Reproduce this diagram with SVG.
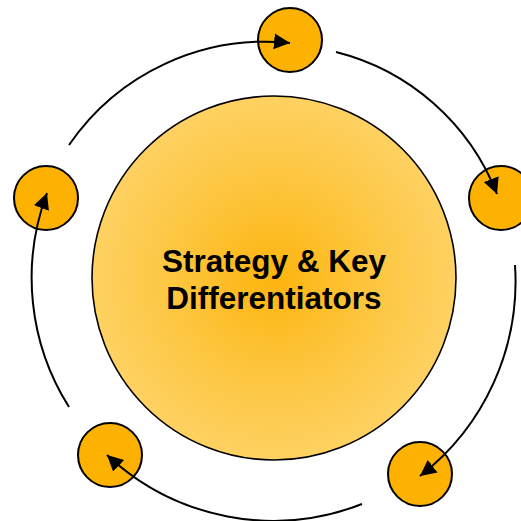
<svg xmlns="http://www.w3.org/2000/svg" width="521" height="521" viewBox="0 0 521 521">
<defs>
<radialGradient id="cg" cx="50%" cy="50%" r="50%">
<stop offset="0" stop-color="#FDB40E"/>
<stop offset="0.55" stop-color="#FDC640"/>
<stop offset="1" stop-color="#FED162"/>
</radialGradient>
<marker id="ah" markerUnits="userSpaceOnUse" markerWidth="18" markerHeight="18" refX="16" refY="8" orient="auto" viewBox="0 0 18 16">
<path d="M0,0 L16,8 L0,16 Z" fill="#000"/>
</marker>
<style>
.sm{fill:#FDB100;stroke:#000;stroke-width:2}
.cn{fill:none;stroke:#000;stroke-width:2;marker-end:url(#ah)}
.lb{font-family:"Liberation Sans",Arial,sans-serif;font-weight:bold;font-size:31.5px;fill:#000;text-anchor:middle}
</style>
</defs>
<rect width="521" height="521" fill="#fff"/>
<g id="center">
<circle cx="274" cy="278" r="182" fill="url(#cg)" stroke="#000" stroke-width="1.6"/>
<text class="lb" x="274" y="272">Strategy &amp; Key</text>
<text class="lb" x="274" y="309">Differentiators</text>
</g>
<g id="n-top"><circle class="sm" cx="290" cy="40" r="32"/></g>
<g id="n-right"><circle class="sm" cx="501" cy="198" r="32"/></g>
<g id="n-bottomright"><circle class="sm" cx="420" cy="474" r="32"/></g>
<g id="n-bottomleft"><circle class="sm" cx="110" cy="455" r="32"/></g>
<g id="n-left"><circle class="sm" cx="46" cy="198" r="32"/></g>
<g id="connectors">
<path class="cn" d="M69,145 A238,238 0 0 1 290,43"/>
<path class="cn" d="M336,52 A234,234 0 0 1 497,194"/>
<path class="cn" d="M515,265 A246,246 0 0 1 420,476"/>
<path class="cn" d="M362,504 A243,243 0 0 1 107,455"/>
<path class="cn" d="M69,407 A242,242 0 0 1 47,193"/>
</g>
</svg>
